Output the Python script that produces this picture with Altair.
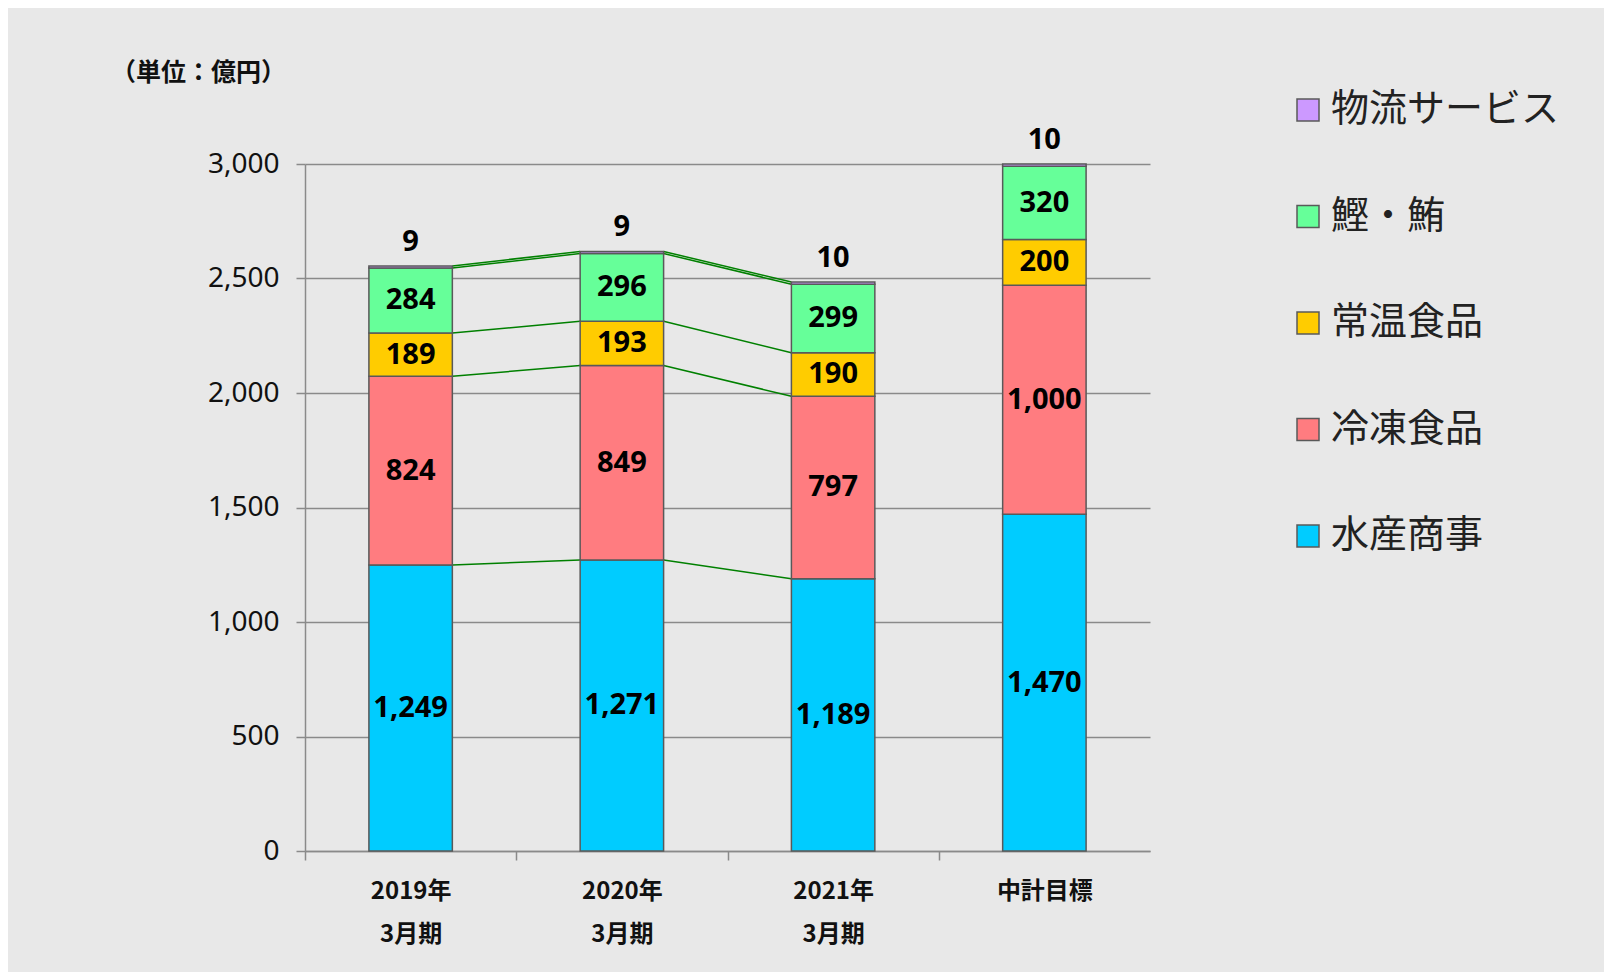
import altair as alt
import pandas as pd

categories = ["2019年\n3月期", "2020年\n3月期", "2021年\n3月期", "中計目標"]
series = ["水産商事", "冷凍食品", "常温食品", "鰹・鮪", "物流サービス"]
colors = ["#00CCFF", "#FF7C80", "#FFCC00", "#66FF99", "#CC99FF"]
v_suisan = [1249, 1271, 1189, 1470]
v_reito = [824, 849, 797, 1000]
v_jonon = [189, 193, 190, 200]
v_katsuo = [284, 296, 299, 320]
v_butsuryu = [9, 9, 10, 10]
y_ticks = [0, 500, 1000, 1500, 2000, 2500, 3000]

values = [v_suisan, v_reito, v_jonon, v_katsuo, v_butsuryu]

rows = []
tops = {}
for ci, cat in enumerate(categories):
    lo = 0
    for si, s in enumerate(series):
        v = values[si][ci]
        hi = lo + v
        tops[(si, ci)] = hi
        rows.append({"cat": cat, "series": s, "ord": si, "lo": lo, "hi": hi,
                     "mid": (lo + hi) / 2, "label": f"{v:,}", "top": si == len(series) - 1})
        lo = hi
df = pd.DataFrame(rows)

line_rows = []
for ci in range(2):
    for si, s in enumerate(series):
        line_rows.append({"from": categories[ci], "to": categories[ci + 1],
                          "y1": tops[(si, ci)], "y2": tops[(si, ci + 1)]})
df_lines = pd.DataFrame(line_rows)

legend_order = list(reversed(series))
legend_colors = list(reversed(colors))

PLOT_W, PLOT_H = 845, 687
STEP = PLOT_W / 4
P_IN = 0.605
BAR_HALF = STEP * (1 - P_IN) / 2

xscale = alt.Scale(domain=categories, paddingInner=P_IN, paddingOuter=P_IN / 2)
yscale = alt.Scale(domain=[0, 3000], nice=False)

x_axis = alt.Axis(
    title=None,
    labelExpr="split(datum.label, '\\n')",
    labelAngle=0,
    labelAlign="center",
    labelFont="Noto Sans CJK JP",
    labelFontSize=24,
    labelFontWeight="bold",
    labelColor="#111111",
    labelLineHeight=43,
    labelPadding=19,
    labelBaseline="top",
    bandPosition=0,
    tickOffset=-STEP * P_IN / 2,
    labelOffset=STEP * P_IN / 2,
    tickSize=9,
    tickColor="#8a8a8a",
    tickWidth=1.5,
    domainColor="#8a8a8a",
    domainWidth=1.5,
)

y_axis = alt.Axis(
    values=y_ticks,
    format=",.0f",
    labelFont="Noto Sans",
    labelFontSize=28,
    labelColor="#111111",
    labelPadding=17,
    tickSize=9,
    tickColor="#8a8a8a",
    tickWidth=1.5,
    domainColor="#8a8a8a",
    domainWidth=1.5,
    gridColor="#8a8a8a",
    gridWidth=1.3,
    title="（単位：億円）",
    titleAngle=0,
    titleX=-107,
    titleY=-92,
    titleAlign="center",
    titleBaseline="middle",
    titleFont="Noto Sans CJK JP",
    titleFontSize=25,
    titleFontWeight="bold",
    titleColor="#111111",
)

bars = alt.Chart(df).mark_bar(stroke="#595959", strokeWidth=1.5).encode(
    x=alt.X("cat:N", scale=xscale, axis=x_axis, sort=categories),
    y=alt.Y("lo:Q", scale=yscale, axis=y_axis),
    y2="hi:Q",
    color=alt.Color(
        "series:N",
        scale=alt.Scale(domain=legend_order, range=legend_colors),
        legend=alt.Legend(
            title=None,
            orient="none",
            legendX=984,
            legendY=-73,
            symbolType="square",
            symbolSize=484,
            symbolStrokeColor="#595959",
            symbolStrokeWidth=1.5,
            symbolOpacity=1,
            labelFont="Noto Sans CJK JP",
            labelFontSize=38,
            labelColor="#222222",
            labelOffset=4,
            rowPadding=68.5,
            padding=0,
            labelLimit=400,
        ),
    ),
    order=alt.Order("ord:Q"),
)

lines = alt.Chart(df_lines).mark_rule(
    color="#008000", strokeWidth=1.5, xOffset=BAR_HALF, x2Offset=-BAR_HALF
).encode(
    x=alt.X("from:N", scale=xscale, sort=categories),
    x2="to:N",
    y=alt.Y("y1:Q", scale=yscale),
    y2="y2:Q",
)

inner_labels = alt.Chart(df[~df["top"]]).mark_text(
    font="Noto Sans", fontSize=29, fontWeight="bold", color="#000000", baseline="middle"
).encode(
    x=alt.X("cat:N", scale=xscale, sort=categories),
    y=alt.Y("mid:Q", scale=yscale),
    text="label:N",
)

top_labels = alt.Chart(df[df["top"]]).mark_text(
    font="Noto Sans", fontSize=29, fontWeight="bold", color="#000000", baseline="middle", dy=-24
).encode(
    x=alt.X("cat:N", scale=xscale, sort=categories),
    y=alt.Y("hi:Q", scale=yscale),
    text="label:N",
)

chart = alt.layer(lines, bars, inner_labels, top_labels).properties(
    width=PLOT_W,
    height=PLOT_H,
    autosize=alt.AutoSizeParams(type="none"),
    padding={"left": 297, "top": 156, "right": 1596 - 297 - PLOT_W, "bottom": 121},
    background="#e8e8e8",
).configure_view(stroke=None)

chart.save("out.html", embed_options={"renderer": "svg", "actions": False})
